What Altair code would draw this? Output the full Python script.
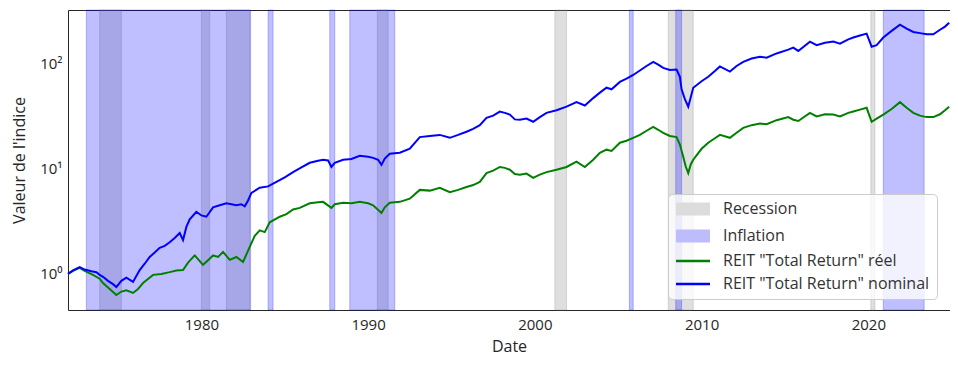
import altair as alt
import pandas as pd

# ---------------- data ----------------
nom_year = [1972.0, 1972.3, 1972.7, 1973.0, 1973.4, 1973.7, 1973.9, 1974.1, 1974.4, 1974.7,
            1974.9, 1975.2, 1975.5, 1975.9, 1976.3, 1976.6, 1976.9, 1977.2, 1977.5, 1977.8,
            1978.1, 1978.4, 1978.7, 1978.9, 1979.1, 1979.3, 1979.7, 1980.0, 1980.3, 1980.7,
            1981.1, 1981.5, 1981.8, 1982.1, 1982.4, 1982.6, 1982.8, 1983.0, 1983.5, 1984.0,
            1984.5, 1985.0, 1985.5, 1986.0, 1986.5, 1987.0, 1987.3, 1987.6, 1987.8, 1988.0,
            1988.5, 1989.0, 1989.5, 1990.0, 1990.3, 1990.6, 1990.8, 1991.0, 1991.3, 1991.9,
            1992.5, 1993.1, 1993.7, 1994.3, 1994.9, 1995.4, 1995.9, 1996.3, 1996.7, 1997.1,
            1997.5, 1997.9, 1998.2, 1998.5, 1998.8, 1999.1, 1999.5, 1999.9, 2000.3, 2000.7,
            2001.3, 2001.9, 2002.5, 2003.0, 2003.5, 2003.9, 2004.3, 2004.6, 2005.1, 2005.5,
            2005.9, 2006.3, 2006.7, 2007.1, 2007.4, 2007.7, 2008.1, 2008.5, 2008.7, 2008.8,
            2009.0, 2009.2, 2009.35, 2009.5, 2010.0, 2010.4, 2010.8, 2011.1, 2011.7, 2012.1,
            2012.5, 2013.0, 2013.5, 2013.9, 2014.5, 2015.2, 2015.5, 2015.8, 2016.5, 2016.9,
            2017.4, 2017.9, 2018.3, 2018.8, 2019.1, 2019.5, 2019.9, 2020.2, 2020.5, 2020.9,
            2021.4, 2021.9, 2022.3, 2022.7, 2023.1, 2023.5, 2023.9, 2024.3, 2024.6, 2024.85]
nom_value = [1.0, 1.08, 1.16, 1.1, 1.06, 1.04, 0.98, 0.94, 0.86, 0.80,
             0.75, 0.86, 0.92, 0.84, 1.09, 1.25, 1.45, 1.6, 1.77, 1.85,
             2.0, 2.2, 2.45, 2.1, 2.8, 3.3, 3.9, 3.6, 3.5, 4.3,
             4.5, 4.7, 4.6, 4.5, 4.6, 4.4, 5.0, 5.9, 6.6, 6.8,
             7.5, 8.3, 9.3, 10.3, 11.4, 11.9, 12.2, 12.0, 10.4, 11.4,
             12.2, 12.4, 13.3, 13.0, 12.7, 12.2, 10.9, 12.5, 13.9, 14.2,
             15.5, 20, 20.5, 21, 19.7, 21, 22.5, 24, 26, 30.5,
             32, 35, 34, 32.8, 29.5, 29.3, 30, 28, 31, 34,
             36, 39, 43, 40, 47, 53, 59, 57, 67, 72,
             78, 86, 95, 104, 98, 91, 87, 88, 75, 57,
             46, 39, 48, 59, 68, 75, 85, 94, 84, 95,
             104, 112, 116, 114, 125, 136, 142, 132, 162, 150,
             158, 162, 155, 170, 177, 185, 193, 145, 150, 177,
             205, 235, 215, 200, 195, 190, 190, 210, 225, 245]

real_year = [1972.0, 1972.3, 1972.7, 1973.0, 1973.5, 1973.9, 1974.1, 1974.5, 1974.9, 1975.2,
             1975.5, 1975.9, 1976.2, 1976.5, 1977.1, 1977.6, 1978.1, 1978.5, 1978.9, 1979.2,
             1979.6, 1980.1, 1980.4, 1980.7, 1981.0, 1981.3, 1981.7, 1982.1, 1982.5, 1982.9,
             1983.2, 1983.5, 1983.8, 1984.1, 1984.7, 1985.1, 1985.5, 1985.9, 1986.5, 1987.0,
             1987.3, 1987.8, 1988.0, 1988.5, 1989.0, 1989.5, 1990.0, 1990.3, 1990.8, 1991.0,
             1991.3, 1991.9, 1992.5, 1993.1, 1993.7, 1994.3, 1994.9, 1995.4, 1995.9, 1996.3,
             1996.7, 1997.1, 1997.5, 1997.9, 1998.2, 1998.5, 1998.8, 1999.1, 1999.5, 1999.9,
             2000.3, 2000.7, 2001.3, 2001.9, 2002.5, 2003.0, 2003.5, 2003.9, 2004.3, 2004.6,
             2005.1, 2005.5, 2005.9, 2006.3, 2006.7, 2007.1, 2007.4, 2007.7, 2008.1, 2008.5,
             2008.7, 2008.9, 2009.05, 2009.2, 2009.35, 2009.5, 2010.0, 2010.4, 2010.8, 2011.1,
             2011.7, 2012.1, 2012.5, 2013.0, 2013.5, 2013.9, 2014.5, 2015.2, 2015.5, 2015.8,
             2016.5, 2016.9, 2017.4, 2017.9, 2018.3, 2018.8, 2019.1, 2019.5, 2019.9, 2020.2,
             2020.5, 2020.9, 2021.4, 2021.9, 2022.3, 2022.7, 2023.1, 2023.5, 2023.9, 2024.3,
             2024.6, 2024.85]
real_value = [1.0, 1.07, 1.14, 1.07, 0.98, 0.9, 0.82, 0.72, 0.63, 0.68,
              0.70, 0.66, 0.72, 0.82, 0.98, 1.0, 1.04, 1.08, 1.09, 1.28,
              1.5, 1.22, 1.35, 1.5, 1.45, 1.62, 1.36, 1.45, 1.30, 1.81,
              2.3, 2.6, 2.5, 3.1, 3.5, 3.7, 4.1, 4.25, 4.7, 4.8,
              4.85, 4.25, 4.6, 4.75, 4.7, 4.85, 4.7, 4.5, 3.8, 4.3,
              4.75, 4.85, 5.2, 6.3, 6.2, 6.6, 6.0, 6.3, 6.7, 7.0,
              7.5, 9.1, 9.6, 10.4, 10.2, 9.8, 8.9, 8.8, 9.0, 8.2,
              8.8, 9.3, 9.8, 10.4, 11.7, 10.4, 12.2, 14.2, 15.2, 14.8,
              17.7, 18.5, 19.7, 21, 23, 25, 23.5, 22, 20.5, 20,
              17, 13, 10.5, 9.1, 11, 12.2, 15.5, 17.7, 19.5, 21,
              19.7, 22, 24.5, 26, 27, 26.5, 29, 31, 29.3, 28.5,
              34, 31.5, 33, 32.8, 31.5, 34, 35, 36.5, 38, 28,
              30, 32.8, 37, 43, 38, 34, 32, 31, 31, 33,
              36, 39]

rec_start = [1973.9, 1980.0, 1981.5, 1990.55, 2001.2, 2008.0, 2020.15]
rec_end = [1975.2, 1980.5, 1982.9, 1991.2, 2001.9, 2009.5, 2020.4]
inf_start = [1973.1, 1984.0, 1987.7, 1988.9, 2005.67, 2008.45, 2020.9]
inf_end = [1982.95, 1984.3, 1988.0, 1991.6, 2005.9, 2008.8, 2023.35]

legend_labels = ["Recession", "Inflation",
                 'REIT "Total Return" réel', 'REIT "Total Return" nominal']

# ---------------- styling ----------------
FONT = "Open Sans"
TXT = "#262626"
X_DOMAIN = [1972.0, 2024.9]
Y_DOMAIN = [0.454, 323.6]

xscale = alt.Scale(domain=X_DOMAIN, nice=False, zero=False)
yscale = alt.Scale(type="log", domain=Y_DOMAIN, nice=False)

xaxis = alt.Axis(title="Date", values=[1980, 1990, 2000, 2010, 2020], format="d",
                 grid=False, ticks=False, domain=False, labelPadding=7,
                 titlePadding=6)
yaxis = alt.Axis(title="Valeur de l'indice", values=[1, 10, 100], grid=False,
                 ticks=False, domain=False, labelPadding=6, titlePadding=12,
                 labelExpr="'10' + ['⁰','¹','²','³'][round(log(datum.value)/LN10)]")

rec_df = pd.DataFrame({"start": rec_start, "end": rec_end})
inf_df = pd.DataFrame({"start": inf_start, "end": inf_end})
nom_df = pd.DataFrame({"year": nom_year, "value": nom_value})
real_df = pd.DataFrame({"year": real_year, "value": real_value})
leg_df = pd.DataFrame({"cat": legend_labels})

rec = alt.Chart(rec_df).mark_rect(fill="gray", fillOpacity=0.25, stroke="gray",
                                  strokeOpacity=0.25, strokeWidth=1).encode(
    x=alt.X("start:Q", scale=xscale, axis=xaxis),
    x2="end:Q",
)
inf = alt.Chart(inf_df).mark_rect(fill="blue", fillOpacity=0.25, stroke="blue",
                                  strokeOpacity=0.25, strokeWidth=1).encode(
    x=alt.X("start:Q", scale=xscale, axis=xaxis),
    x2="end:Q",
)
real_line = alt.Chart(real_df).mark_line(color="green", strokeWidth=2).encode(
    x=alt.X("year:Q", scale=xscale, axis=xaxis),
    y=alt.Y("value:Q", scale=yscale, axis=yaxis),
)
nom_line = alt.Chart(nom_df).mark_line(color="blue", strokeWidth=2).encode(
    x=alt.X("year:Q", scale=xscale, axis=xaxis),
    y=alt.Y("value:Q", scale=yscale, axis=yaxis),
)

PATCH = "M-2.43,-0.93H2.43V0.93H-2.43Z"
LINE = "M-2.43,-0.17H2.43V0.17H-2.43Z"

leg = alt.Chart(leg_df).mark_point(filled=True, size=0, opacity=1).encode(
    color=alt.Color("cat:N", sort=legend_labels, title=None,
                    scale=alt.Scale(domain=legend_labels,
                                    range=["#dcdcdc", "#bdbdfd", "green", "blue"]),
                    legend=alt.Legend(orient="none", legendX=600, legendY=184,
                                      symbolSize=196, symbolOffset=10,
                                      labelOffset=22, rowPadding=7,
                                      padding=7, labelFontSize=16,
                                      labelFont=FONT, labelColor="#333333",
                                      symbolOpacity=1,
                                      fillColor="rgba(255,255,255,0.8)",
                                      strokeColor="#cccccc", cornerRadius=4,
                                      labelLimit=400)),
    shape=alt.Shape("cat:N", sort=legend_labels, title=None,
                    scale=alt.Scale(domain=legend_labels,
                                    range=[PATCH, PATCH, LINE, LINE])),
)

chart = alt.layer(rec, inf, real_line, nom_line, leg).properties(
    width=882, height=300,
    autosize=alt.AutoSizeParams(type="none"),
    padding={"left": 60, "top": 2, "right": 0, "bottom": 51},
).configure(font=FONT).configure_view(
    stroke=TXT, strokeWidth=1
).configure_axis(
    labelFont=FONT, titleFont=FONT, labelFontSize=15, titleFontSize=16,
    labelColor=TXT, titleColor=TXT, titleFontWeight="normal"
)

chart.save("out.html", embed_options={"renderer": "svg", "actions": False})
